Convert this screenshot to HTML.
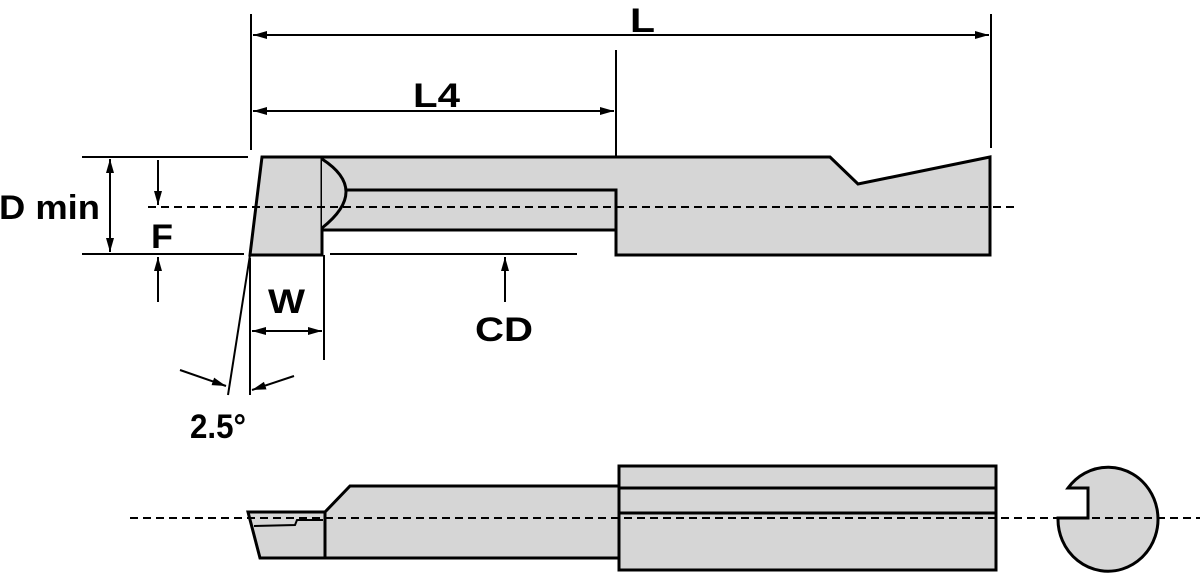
<!DOCTYPE html>
<html><head><meta charset="utf-8"><style>
html,body{margin:0;padding:0;background:#fff;}
svg{display:block;}
text{font-family:"Liberation Sans",Arial,sans-serif;font-weight:bold;fill:#000;}
</style></head><body>
<svg width="1200" height="573" viewBox="0 0 1200 573" xmlns="http://www.w3.org/2000/svg">
<defs>
<marker id="b" viewBox="0 0 14 8" refX="14" refY="4" markerWidth="14" markerHeight="8" markerUnits="userSpaceOnUse" orient="auto-start-reverse">
<path d="M0,0 L14,4 L0,8 z" fill="#000"/></marker>
</defs>
<g stroke="#000" stroke-width="2" fill="none">
<line x1="251" y1="14" x2="251" y2="150"/>
<line x1="991" y1="14" x2="991" y2="148"/>
<line x1="616" y1="50" x2="616" y2="186"/>
<line x1="253" y1="35" x2="989" y2="35" marker-start="url(#b)" marker-end="url(#b)"/>
<line x1="253" y1="111" x2="614" y2="111" marker-start="url(#b)" marker-end="url(#b)"/>
<line x1="82" y1="157" x2="248" y2="157"/>
<line x1="82" y1="254" x2="244" y2="254"/>
<line x1="110" y1="159" x2="110" y2="252" marker-start="url(#b)" marker-end="url(#b)"/>
<line x1="158" y1="160" x2="158" y2="205" marker-end="url(#b)"/>
<line x1="158" y1="302" x2="158" y2="257" marker-end="url(#b)"/>
<line x1="330" y1="254" x2="577" y2="254"/>
<line x1="505" y1="182" x2="505" y2="228" marker-end="url(#b)"/>
<line x1="505" y1="302" x2="505" y2="257" marker-end="url(#b)"/>
<line x1="250" y1="258" x2="250" y2="395"/>
<line x1="324" y1="255" x2="324" y2="360"/>
<line x1="252" y1="331" x2="322" y2="331" marker-start="url(#b)" marker-end="url(#b)"/>
<line x1="180" y1="370" x2="226" y2="386" marker-end="url(#b)"/>
<line x1="294" y1="376" x2="252" y2="390" marker-end="url(#b)"/>
</g>
<g stroke="#000" stroke-width="3" fill="#d6d6d6" stroke-linejoin="miter">
<path d="M322,157 L830,157 L858,184 L990,157 L990,255 L616,255 L616,230 L322,230 Z"/>
<path d="M262,157 L322,157 L322,255 L250,255 Z"/>
<path d="M322,159 Q370,190 322,228" fill="#d6d6d6"/>
<path d="M345,190 L616,190 L616,230" fill="none"/>
</g>
<line x1="250" y1="255" x2="228" y2="395" stroke="#000" stroke-width="2"/>
<line x1="148" y1="207" x2="1016" y2="207" stroke="#000" stroke-width="2" stroke-dasharray="8,5"/>
<g stroke="#000" stroke-width="3" fill="#d6d6d6">
<path d="M325,512 L350,486 L619,486 L619,558 L325,558 Z"/>
<path d="M248,512 L325,512 L325,558 L260,558 Z"/>
<path d="M254,526 L295,525 L297,520 L323,520" fill="none" stroke-width="2"/>
<rect x="619" y="466" width="377" height="104"/>
<line x1="619" y1="488" x2="996" y2="488"/>
<line x1="619" y1="513" x2="996" y2="513"/>
<path d="M1068,488 A50,52 0 1 1 1058,518 L1088,518 L1088,488 Z"/>
</g>
<line x1="130" y1="518" x2="1200" y2="518" stroke="#000" stroke-width="2" stroke-dasharray="8,5"/>
<text x="630" y="32" font-size="34" textLength="25" lengthAdjust="spacingAndGlyphs">L</text>
<text x="413" y="107" font-size="34" textLength="47" lengthAdjust="spacingAndGlyphs">L4</text>
<text x="-1" y="219" font-size="34" textLength="101" lengthAdjust="spacingAndGlyphs">D min</text>
<text x="151" y="248" font-size="34" textLength="22" lengthAdjust="spacingAndGlyphs">F</text>
<text x="268" y="313" font-size="34" textLength="37" lengthAdjust="spacingAndGlyphs">W</text>
<text x="475" y="341" font-size="34" textLength="58" lengthAdjust="spacingAndGlyphs">CD</text>
<text x="190" y="438" font-size="34" textLength="56" lengthAdjust="spacingAndGlyphs">2.5°</text>
</svg>
</body></html>
